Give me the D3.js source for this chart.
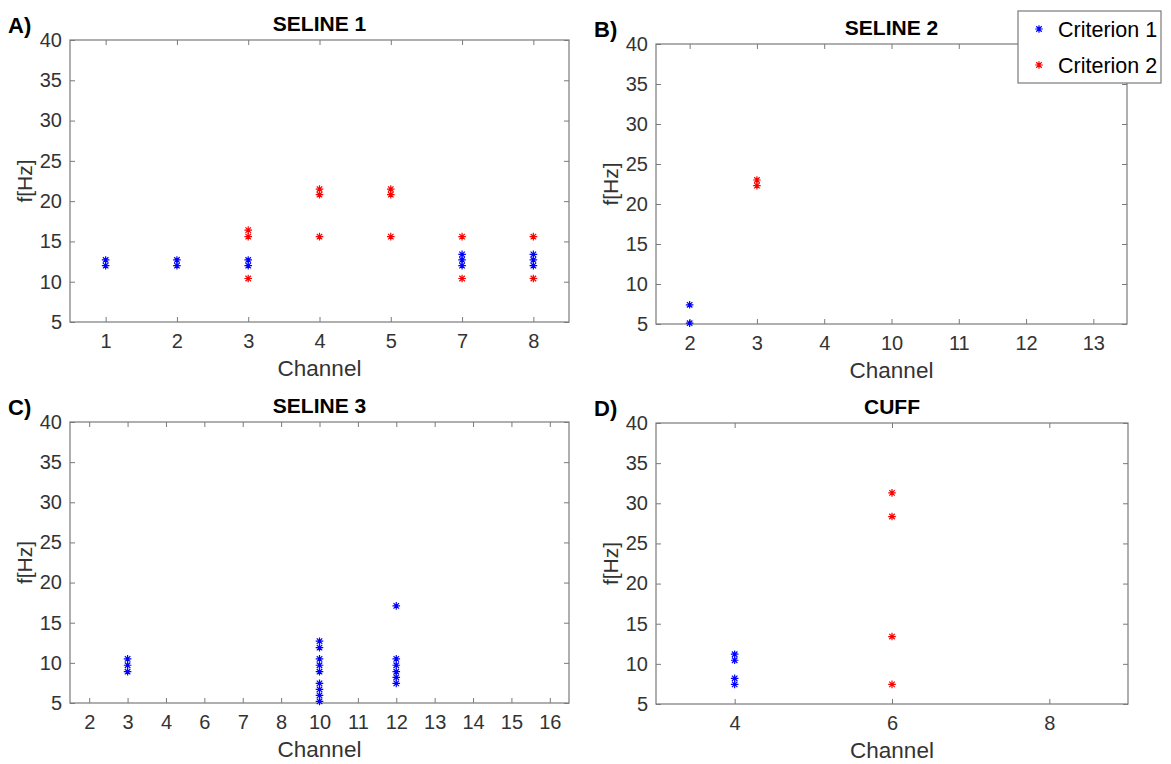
<!DOCTYPE html>
<html>
<head>
<meta charset="utf-8">
<script src="https://cdn.jsdelivr.net/npm/d3@7"></script>
<style>
  body { margin: 0; background: #fff; }
  svg { display: block; font-family: "Liberation Sans", Arial, sans-serif; }
</style>
</head>
<body>
<div id="chart"></div>
<script>
// channels shown on each panel's x axis
const seline1Channels = ["1", "2", "3", "4", "5", "7", "8"];
const seline2Channels = ["2", "3", "4", "10", "11", "12", "13"];
const seline3Channels = ["2", "3", "4", "6", "7", "8", "10", "11", "12", "13", "14", "15", "16"];
const cuffChannels = ["4", "6", "8"];

// [channel, frequency Hz]
const seline1Crit1 = [["1", 12.7], ["1", 12.0], ["2", 12.7], ["2", 12.0], ["3", 12.7], ["3", 12.0],
  ["7", 13.4], ["7", 12.7], ["7", 12.0], ["8", 13.4], ["8", 12.7], ["8", 12.0]];
const seline1Crit2 = [["3", 16.4], ["3", 15.6], ["3", 10.4], ["4", 21.5], ["4", 20.8], ["4", 15.6],
  ["5", 21.5], ["5", 20.8], ["5", 15.6], ["7", 15.6], ["7", 10.4], ["8", 15.6], ["8", 10.4]];

const seline2Crit1 = [["2", 7.4], ["2", 5.1]];
const seline2Crit2 = [["3", 23.0], ["3", 22.3]];

const seline3Crit1 = [["3", 10.5], ["3", 9.7], ["3", 8.9],
  ["10", 12.7], ["10", 11.9], ["10", 10.5], ["10", 9.7], ["10", 8.9], ["10", 7.45], ["10", 6.7], ["10", 5.95], ["10", 5.2],
  ["12", 17.1], ["12", 10.5], ["12", 9.7], ["12", 8.9], ["12", 8.2], ["12", 7.45]];
const seline3Crit2 = [];

const cuffCrit1 = [["4", 11.2], ["4", 10.45], ["4", 8.2], ["4", 7.45]];
const cuffCrit2 = [["6", 31.3], ["6", 28.35], ["6", 13.4], ["6", 7.45]];

const yTicks = [5, 10, 15, 20, 25, 30, 35, 40];

const width = 1171, height = 764;
const axisColor = "#7a7a7a", textColor = "#333";

const svg = d3.select("#chart").append("svg")
    .attr("width", width)
    .attr("height", height);

const panels = [
    {letter: "A)", title: "SELINE 1", channels: seline1Channels, c1: seline1Crit1, c2: seline1Crit2,
        left: 70, top: 40, right: 569, bottom: 322},
    {letter: "B)", title: "SELINE 2", channels: seline2Channels, c1: seline2Crit1, c2: seline2Crit2,
        left: 656, top: 44, right: 1127, bottom: 324},
    {letter: "C)", title: "SELINE 3", channels: seline3Channels, c1: seline3Crit1, c2: seline3Crit2,
        left: 70, top: 422, right: 569, bottom: 703},
    {letter: "D)", title: "CUFF", channels: cuffChannels, c1: cuffCrit1, c2: cuffCrit2,
        left: 656, top: 423, right: 1128, bottom: 704}
];

// matlab style '*' marker
function star(g, x, y, color) {
    const r = 3.8, d = r * 0.72;
    g.append("path")
        .attr("d", "M" + (x - r) + "," + y + "H" + (x + r) +
            "M" + x + "," + (y - r) + "V" + (y + r) +
            "M" + (x - d) + "," + (y - d) + "L" + (x + d) + "," + (y + d) +
            "M" + (x - d) + "," + (y + d) + "L" + (x + d) + "," + (y - d))
        .attr("stroke", color)
        .attr("stroke-width", 1.2)
        .attr("fill", "none");
}

panels.forEach(function(p) {
    const g = svg.append("g");

    const x = d3.scalePoint()
        .domain(p.channels)
        .range([p.left, p.right])
        .padding(0.5);

    const y = d3.scaleLinear()
        .domain([5, 40])
        .range([p.bottom, p.top]);

    // inward ticks on all four sides
    function styleAxis(sel) {
        sel.select(".domain").remove();
        sel.selectAll(".tick line").attr("stroke", axisColor);
        sel.selectAll(".tick text")
            .attr("fill", textColor)
            .attr("font-size", "20px")
            .attr("font-family", "Liberation Sans, Arial, sans-serif");
    }

    g.append("g")
        .attr("transform", "translate(0," + p.bottom + ")")
        .call(d3.axisBottom(x).tickSizeInner(-5).tickSizeOuter(0).tickPadding(12))
        .call(styleAxis);
    g.append("g")
        .attr("transform", "translate(0," + p.top + ")")
        .call(d3.axisTop(x).tickSizeInner(-5).tickSizeOuter(0).tickFormat(""))
        .call(styleAxis);
    g.append("g")
        .attr("transform", "translate(" + p.left + ",0)")
        .call(d3.axisLeft(y).tickValues(yTicks).tickSizeInner(-5).tickSizeOuter(0).tickPadding(8))
        .call(styleAxis);
    g.append("g")
        .attr("transform", "translate(" + p.right + ",0)")
        .call(d3.axisRight(y).tickValues(yTicks).tickSizeInner(-5).tickSizeOuter(0).tickFormat(""))
        .call(styleAxis);

    g.append("rect")
        .attr("x", p.left).attr("y", p.top)
        .attr("width", p.right - p.left).attr("height", p.bottom - p.top)
        .attr("fill", "none")
        .attr("stroke", axisColor)
        .attr("stroke-width", 1.2);

    p.c1.forEach(function(d) { star(g, x(d[0]), y(d[1]), "#0000ff"); });
    p.c2.forEach(function(d) { star(g, x(d[0]), y(d[1]), "#ff0000"); });

    const cx = (p.left + p.right) / 2;
    g.append("text")
        .attr("x", cx).attr("y", p.top - 9)
        .attr("text-anchor", "middle")
        .attr("font-size", "21px").attr("font-weight", "bold")
        .attr("fill", "#000")
        .text(p.title);

    g.append("text")
        .attr("x", p.left - 62).attr("y", p.top - 7)
        .attr("font-size", "22px").attr("font-weight", "bold")
        .attr("fill", "#000")
        .text(p.letter);

    g.append("text")
        .attr("x", cx).attr("y", p.bottom + 54)
        .attr("text-anchor", "middle")
        .attr("font-size", "22.5px")
        .attr("fill", textColor)
        .text("Channel");

    g.append("text")
        .attr("transform", "translate(" + (p.left - 38) + "," + ((p.top + p.bottom) / 2) + ") rotate(-90)")
        .attr("text-anchor", "middle")
        .attr("font-size", "21px")
        .attr("fill", textColor)
        .text("f[Hz]");
});

// legend
const lg = svg.append("g");
lg.append("rect")
    .attr("x", 1018).attr("y", 11)
    .attr("width", 143).attr("height", 72)
    .attr("fill", "#fff")
    .attr("stroke", axisColor)
    .attr("stroke-width", 1.2);
[["Criterion 1", "#0000ff"], ["Criterion 2", "#ff0000"]].forEach(function(item, i) {
    const yy = 29 + i * 36;
    star(lg, 1039, yy, item[1]);
    lg.append("text")
        .attr("x", 1058).attr("y", yy + 8)
        .attr("font-size", "21.5px")
        .attr("fill", "#000")
        .text(item[0]);
});
</script>
</body>
</html>
